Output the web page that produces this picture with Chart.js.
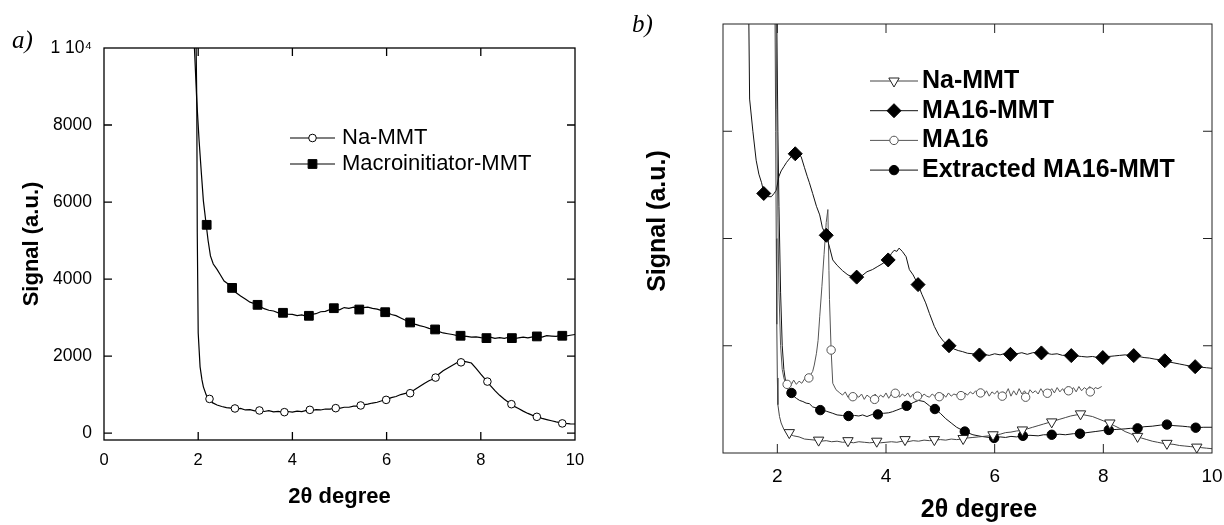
<!DOCTYPE html>
<html>
<head>
<meta charset="utf-8">
<script src="https://cdn.jsdelivr.net/npm/chart.js@4.4.1/dist/chart.umd.min.js"></script>
<style>
html, body { margin: 0; padding: 0; background: #fff; }
.panel { position: absolute; top: 0; width: 612px; height: 525px; }
#pa { left: 0; }
#pb { left: 612px; }
</style>
</head>
<body>
<div class="panel" id="pa"><canvas id="chartA"></canvas></div>
<div class="panel" id="pb"><canvas id="chartB"></canvas></div>
<script>
// ---- panel a) data ----
var aTicksX = [0, 2, 4, 6, 8, 10];
var aTicksY = [0, 2000, 4000, 6000, 8000, 10000];
var aLabels = ['Na-MMT', 'Macroinitiator-MMT'];

var aNaLine = [[1.95,10600],[1.97,8600],[1.98,5200],[2.0,2600],[2.04,1720],[2.08,1380],[2.11,1200],[2.17,990],
  [2.24,880],[2.3,790],[2.4,730],[2.5,690],[2.6,660],[2.7,650],[2.8,620],[2.9,640],[3.0,600],[3.1,610],
  [3.2,575],[3.3,595],[3.4,560],[3.5,580],[3.6,550],[3.7,565],[3.8,540],[3.9,560],[4.0,545],[4.1,570],
  [4.2,555],[4.3,590],[4.4,580],[4.5,610],[4.6,600],[4.7,625],[4.8,620],[4.9,650],[5.0,640],[5.1,670],
  [5.2,670],[5.3,700],[5.4,700],[5.5,730],[5.6,750],[5.7,780],[5.8,800],[5.9,840],[6.0,870],[6.1,920],
  [6.2,950],[6.3,1000],[6.4,1030],[6.5,1050],[6.6,1130],[6.7,1210],[6.8,1290],[6.9,1360],[7.0,1410],
  [7.1,1520],[7.2,1620],[7.3,1690],[7.4,1760],[7.5,1830],[7.6,1870],[7.7,1850],[7.8,1820],[7.9,1680],
  [8.0,1530],[8.1,1390],[8.2,1240],[8.3,1100],[8.4,980],[8.5,880],[8.6,790],[8.7,700],[8.8,640],[8.9,570],
  [9.0,510],[9.1,460],[9.2,420],[9.3,380],[9.4,350],[9.5,320],[9.6,290],[9.7,265],[9.8,250],[9.9,240],[10.0,235]];
var aNaMarks = [[2.24,887],[2.78,639],[3.30,587],[3.83,543],[4.37,603],[4.92,647],[5.45,717],[5.99,862],
  [6.50,1035],[7.04,1441],[7.58,1837],[8.14,1337],[8.65,750],[9.19,422],[9.73,251]];

var aMacroLine = [[1.90,10600],[1.92,10000],[1.97,8620],[2.02,7580],[2.07,6700],[2.11,6030],[2.17,5410],
  [2.21,5000],[2.26,4600],[2.32,4390],[2.4,4250],[2.46,4130],[2.55,3950],[2.63,3880],[2.72,3770],[2.8,3650],
  [2.9,3560],[3.0,3480],[3.1,3400],[3.2,3360],[3.3,3300],[3.4,3230],[3.5,3190],[3.6,3170],[3.7,3120],
  [3.8,3130],[3.9,3090],[4.0,3080],[4.1,3050],[4.2,3070],[4.3,3030],[4.4,3080],[4.5,3100],[4.6,3150],
  [4.7,3160],[4.8,3210],[4.9,3230],[5.0,3200],[5.1,3260],[5.2,3240],[5.3,3270],[5.4,3220],[5.5,3260],
  [5.6,3270],[5.7,3240],[5.8,3220],[5.9,3180],[6.0,3140],[6.1,3080],[6.2,3050],[6.3,2990],[6.4,2930],
  [6.5,2880],[6.6,2830],[6.7,2790],[6.8,2760],[6.9,2720],[7.0,2690],[7.1,2640],[7.2,2600],[7.3,2580],
  [7.4,2560],[7.5,2530],[7.6,2520],[7.7,2510],[7.8,2490],[7.9,2500],[8.0,2480],[8.1,2470],[8.2,2490],
  [8.3,2460],[8.4,2480],[8.5,2460],[8.6,2490],[8.7,2450],[8.8,2470],[8.9,2490],[9.0,2470],[9.1,2500],
  [9.2,2510],[9.3,2490],[9.4,2530],[9.5,2520],[9.6,2510],[9.7,2540],[9.8,2520],[9.9,2540],[10.0,2560]];
var aMacroMarks = [[2.18,5408],[2.72,3770],[3.26,3330],[3.80,3123],[4.35,3045],[4.88,3243],[5.42,3208],
  [5.97,3139],[6.50,2872],[7.03,2691],[7.57,2527],[8.12,2466],[8.66,2466],[9.19,2510],[9.73,2527]];

// ---- panel b) data ----
var bTicksX = [2, 4, 6, 8, 10];
var bTicksY = [1, 2, 3];
var bLabels = ['Na-MMT', 'MA16-MMT', 'MA16', 'Extracted MA16-MMT'];

var bNaLine = [[1.955,4.3],[1.97,3.0],[1.98,2.0],[1.99,1.2],[2.0,0.7],[2.01,0.45],[2.04,0.34],[2.07,0.28],
  [2.12,0.22],[2.21,0.18],[2.3,0.16],[2.4,0.15],[2.5,0.13],[2.6,0.125],[2.7,0.12],[2.8,0.11],[2.9,0.115],
  [3.0,0.105],[3.1,0.11],[3.2,0.10],[3.3,0.105],[3.4,0.095],[3.5,0.105],[3.6,0.10],[3.7,0.095],[3.8,0.10],
  [3.9,0.095],[4.0,0.10],[4.1,0.105],[4.2,0.10],[4.3,0.11],[4.4,0.105],[4.5,0.115],[4.6,0.11],[4.7,0.12],
  [4.8,0.115],[4.9,0.12],[5.0,0.125],[5.1,0.12],[5.2,0.13],[5.3,0.125],[5.4,0.13],[5.5,0.14],[5.6,0.145],
  [5.7,0.15],[5.8,0.155],[5.9,0.16],[6.0,0.17],[6.1,0.175],[6.2,0.19],[6.3,0.195],[6.4,0.205],[6.5,0.21],
  [6.6,0.225],[6.7,0.24],[6.8,0.255],[6.9,0.27],[7.0,0.285],[7.1,0.30],[7.2,0.315],[7.3,0.33],[7.4,0.345],
  [7.5,0.355],[7.6,0.36],[7.7,0.35],[7.8,0.34],[7.9,0.32],[8.0,0.30],[8.1,0.28],[8.2,0.255],[8.3,0.23],
  [8.4,0.20],[8.5,0.18],[8.6,0.155],[8.7,0.14],[8.8,0.125],[8.9,0.11],[9.0,0.10],[9.1,0.09],[9.2,0.085],
  [9.3,0.08],[9.4,0.07],[9.5,0.065],[9.6,0.06],[9.7,0.055],[9.8,0.05],[9.9,0.045],[10.0,0.04]];
var bNaMarks = [[2.22,0.19],[2.76,0.12],[3.30,0.115],[3.83,0.11],[4.35,0.125],[4.89,0.125],[5.42,0.135],
  [5.97,0.17],[6.51,0.215],[7.05,0.29],[7.58,0.365],[8.12,0.28],[8.63,0.155],[9.17,0.09],[9.72,0.055]];

var bMmtLine = [[1.47,4.3],[1.49,3.3],[1.55,3.0],[1.61,2.73],[1.66,2.6],[1.71,2.52],[1.75,2.43],[1.82,2.39],
  [1.89,2.39],[1.94,2.42],[1.98,2.45],[2.03,2.58],[2.07,2.63],[2.12,2.67],[2.17,2.71],[2.25,2.76],[2.33,2.80],
  [2.39,2.79],[2.44,2.76],[2.5,2.66],[2.55,2.58],[2.59,2.52],[2.65,2.42],[2.72,2.30],[2.78,2.22],[2.83,2.10],
  [2.9,2.03],[2.96,1.92],[3.02,1.80],[3.1,1.75],[3.2,1.70],[3.3,1.66],[3.4,1.64],[3.46,1.64],[3.55,1.65],
  [3.65,1.69],[3.75,1.71],[3.85,1.74],[3.95,1.77],[4.04,1.81],[4.1,1.86],[4.15,1.89],[4.2,1.88],[4.24,1.91],
  [4.3,1.88],[4.37,1.83],[4.43,1.71],[4.5,1.66],[4.59,1.57],[4.66,1.48],[4.73,1.40],[4.8,1.30],[4.89,1.18],
  [4.97,1.10],[5.06,1.04],[5.16,1.00],[5.25,0.97],[5.33,0.955],[5.41,0.945],[5.5,0.93],[5.6,0.925],
  [5.72,0.914],[5.8,0.92],[5.9,0.91],[6.0,0.925],[6.1,0.915],[6.2,0.93],[6.29,0.92],[6.4,0.925],[6.5,0.935],
  [6.6,0.92],[6.7,0.935],[6.8,0.94],[6.86,0.933],[6.95,0.93],[7.05,0.92],[7.15,0.925],[7.25,0.91],
  [7.35,0.915],[7.41,0.908],[7.5,0.905],[7.6,0.90],[7.7,0.895],[7.8,0.90],[7.9,0.89],[7.99,0.89],[8.1,0.90],
  [8.2,0.905],[8.3,0.91],[8.4,0.915],[8.5,0.91],[8.56,0.908],[8.65,0.90],[8.75,0.89],[8.85,0.885],
  [8.95,0.875],[9.05,0.87],[9.13,0.86],[9.2,0.85],[9.3,0.84],[9.4,0.83],[9.5,0.82],[9.6,0.81],[9.69,0.805],
  [9.8,0.80],[9.9,0.795],[10.0,0.79]];
var bMmtMarks = [[1.75,2.42],[2.33,2.79],[2.90,2.03],[3.46,1.64],[4.04,1.80],[4.59,1.57],[5.16,1.00],
  [5.72,0.914],[6.29,0.92],[6.86,0.933],[7.41,0.908],[7.99,0.89],[8.56,0.908],[9.13,0.86],[9.69,0.805]];

var bMa16Line = [[1.975,4.3],[1.99,3.2],[2.01,2.2],[2.03,1.5],[2.06,1.0],[2.09,0.78],[2.12,0.70],[2.15,0.65],
  [2.2,0.66],[2.25,0.63],[2.3,0.68],[2.35,0.64],[2.4,0.67],[2.45,0.65],[2.5,0.69],[2.55,0.68],[2.6,0.72],
  [2.65,0.76],[2.68,0.82],[2.72,0.93],[2.75,1.05],[2.78,1.27],[2.82,1.55],[2.86,1.85],[2.9,2.15],[2.93,2.27],
  [2.95,1.70],[2.96,1.43],[2.99,0.96],[3.02,0.65],[3.08,0.59],[3.15,0.56],[3.2,0.54],[3.25,0.57],[3.3,0.52],
  [3.35,0.55],[3.4,0.51],[3.45,0.54],[3.5,0.52],[3.55,0.55],[3.6,0.50],[3.65,0.54],[3.7,0.52],[3.75,0.50],
  [3.8,0.55],[3.85,0.51],[3.9,0.54],[3.95,0.52],[4.0,0.56],[4.05,0.51],[4.1,0.55],[4.15,0.53],[4.2,0.57],
  [4.25,0.52],[4.3,0.55],[4.35,0.53],[4.4,0.56],[4.45,0.52],[4.5,0.55],[4.55,0.53],[4.6,0.56],[4.65,0.52],
  [4.7,0.55],[4.75,0.53],[4.8,0.52],[4.85,0.55],[4.9,0.53],[4.95,0.56],[5.0,0.54],[5.05,0.55],[5.1,0.52],
  [5.15,0.56],[5.2,0.53],[5.25,0.55],[5.3,0.54],[5.35,0.57],[5.4,0.53],[5.45,0.56],[5.5,0.54],[5.55,0.57],
  [5.6,0.55],[5.65,0.58],[5.7,0.55],[5.75,0.57],[5.8,0.54],[5.85,0.58],[5.9,0.53],[5.95,0.57],[6.0,0.55],
  [6.05,0.58],[6.1,0.52],[6.15,0.57],[6.2,0.55],[6.25,0.60],[6.3,0.53],[6.35,0.58],[6.4,0.54],[6.45,0.60],
  [6.5,0.55],[6.55,0.58],[6.6,0.53],[6.65,0.59],[6.7,0.56],[6.75,0.58],[6.8,0.55],[6.85,0.60],[6.9,0.56],
  [6.95,0.58],[7.0,0.57],[7.05,0.60],[7.1,0.56],[7.15,0.61],[7.2,0.57],[7.25,0.60],[7.3,0.56],[7.35,0.62],
  [7.4,0.58],[7.45,0.61],[7.5,0.57],[7.55,0.62],[7.6,0.58],[7.65,0.61],[7.7,0.59],[7.75,0.62],[7.8,0.58],
  [7.85,0.61],[7.9,0.60],[7.97,0.62]];
var bMa16Marks = [[2.18,0.64],[2.58,0.70],[2.99,0.96],[3.39,0.525],[3.79,0.50],[4.17,0.557],[4.58,0.53],
  [4.98,0.525],[5.38,0.535],[5.74,0.56],[6.14,0.53],[6.57,0.52],[6.97,0.557],[7.36,0.58],[7.76,0.57]];

var bExtLine = [[1.985,4.3],[2.01,3.0],[2.03,2.3],[2.06,1.5],[2.09,1.0],[2.12,0.78],[2.16,0.64],[2.2,0.59],
  [2.24,0.56],[2.3,0.53],[2.35,0.51],[2.41,0.49],[2.47,0.48],[2.53,0.465],[2.59,0.46],[2.65,0.43],[2.72,0.42],
  [2.81,0.40],[2.9,0.39],[3.02,0.37],[3.1,0.355],[3.2,0.35],[3.33,0.34],[3.42,0.35],[3.5,0.345],[3.57,0.355],
  [3.65,0.34],[3.75,0.36],[3.86,0.355],[3.95,0.37],[4.05,0.375],[4.12,0.385],[4.2,0.40],[4.3,0.42],[4.4,0.44],
  [4.5,0.47],[4.6,0.49],[4.7,0.48],[4.8,0.44],[4.9,0.41],[5.0,0.37],[5.1,0.32],[5.2,0.28],[5.3,0.24],
  [5.45,0.20],[5.6,0.17],[5.75,0.155],[5.9,0.145],[5.99,0.14],[6.1,0.15],[6.2,0.145],[6.3,0.155],[6.4,0.15],
  [6.52,0.16],[6.65,0.165],[6.8,0.16],[6.9,0.17],[7.05,0.17],[7.2,0.175],[7.3,0.17],[7.45,0.18],[7.57,0.18],
  [7.7,0.19],[7.85,0.20],[8.0,0.21],[8.1,0.215],[8.25,0.22],[8.4,0.225],[8.5,0.23],[8.63,0.23],[8.75,0.245],
  [8.9,0.25],[9.05,0.26],[9.17,0.265],[9.3,0.255],[9.45,0.25],[9.55,0.245],[9.7,0.236],[9.85,0.24],[10.0,0.24]];
var bExtMarks = [[2.26,0.56],[2.79,0.40],[3.31,0.345],[3.85,0.36],[4.38,0.44],[4.90,0.41],[5.45,0.20],
  [5.99,0.14],[6.52,0.16],[7.05,0.17],[7.57,0.18],[8.10,0.215],[8.63,0.23],[9.17,0.265],[9.70,0.236]];

var SANS = "'Liberation Sans', Arial, sans-serif";
var SERIF = "'Liberation Serif', 'Times New Roman', serif";

Chart.defaults.font.family = SANS;
Chart.defaults.font.size = 17;
Chart.defaults.color = '#000';

function pts(arr) {
  return arr.map(function (p) { return {x: p[0], y: p[1]}; });
}

function lineSet(arr, color, width) {
  return {data: pts(arr), showLine: true, borderColor: color, borderWidth: width,
    pointRadius: 0, pointHoverRadius: 0, clip: 0, order: 1, tension: 0};
}

function markSet(arr, style, radius, fill, stroke, rot) {
  return {data: pts(arr), showLine: false, pointStyle: style, pointRadius: radius, pointHoverRadius: radius,
    rotation: rot || 0, backgroundColor: fill, borderColor: stroke, borderWidth: 1, order: 0};
}

function fixTicks(list) {
  return function (scale) {
    scale.ticks = list.map(function (v) { return {value: v}; });
  };
}

// keep the plot box where it is: labels may run past it
function fitX(h) {
  return function (s) { s.height = h; s.paddingLeft = 0; s.paddingRight = 0; };
}
function fitY(w) {
  return function (s) { s.width = w; s.paddingTop = 0; s.paddingBottom = 0; };
}

// frame, inward ticks, legend and loose text
var framePlugin = {
  id: 'frame',
  afterDraw: function (chart, args, o) {
    var ctx = chart.ctx, a = chart.chartArea, sx = chart.scales.x, sy = chart.scales.y;
    ctx.save();
    ctx.strokeStyle = o.color;
    ctx.lineWidth = o.width;
    ctx.strokeRect(a.left, a.top, a.right - a.left, a.bottom - a.top);
    ctx.beginPath();
    o.xMarks.forEach(function (v) {
      var p = sx.getPixelForValue(v);
      ctx.moveTo(p, a.bottom); ctx.lineTo(p, a.bottom - o.len);
      ctx.moveTo(p, a.top); ctx.lineTo(p, a.top + o.len);
    });
    o.yMarks.forEach(function (v) {
      var p = sy.getPixelForValue(v);
      ctx.moveTo(a.left, p); ctx.lineTo(a.left + o.len, p);
      ctx.moveTo(a.right, p); ctx.lineTo(a.right - o.len, p);
    });
    ctx.stroke();

    var L = o.legend;
    ctx.font = L.font;
    ctx.textAlign = 'left';
    ctx.textBaseline = 'middle';
    L.items.forEach(function (it, i) {
      var y = L.y + i * L.gap;
      var ln = chart.data.datasets[it.line], mk = chart.data.datasets[it.mark];
      ctx.strokeStyle = ln.borderColor;
      ctx.lineWidth = ln.borderWidth;
      ctx.beginPath(); ctx.moveTo(L.x, y); ctx.lineTo(L.x + L.len, y); ctx.stroke();
      ctx.fillStyle = mk.backgroundColor;
      ctx.strokeStyle = mk.borderColor;
      ctx.lineWidth = mk.borderWidth;
      Chart.helpers.drawPoint(ctx, {pointStyle: mk.pointStyle, radius: mk.pointRadius,
        rotation: mk.rotation, borderWidth: mk.borderWidth}, L.x + L.len / 2, y);
      ctx.fillStyle = '#000';
      ctx.fillText(it.text, L.x + L.len + L.pad, y);
    });

    o.texts.forEach(function (t) {
      ctx.save();
      ctx.font = t.font;
      ctx.fillStyle = '#000';
      ctx.textAlign = t.align || 'center';
      ctx.textBaseline = t.base || 'middle';
      ctx.translate(t.x, t.y);
      if (t.rot) ctx.rotate(t.rot * Math.PI / 180);
      ctx.fillText(t.text, 0, 0);
      ctx.restore();
    });
    ctx.restore();
  }
};

new Chart(document.getElementById('chartA'), {
  type: 'scatter',
  data: {
    datasets: [
      lineSet(aNaLine, '#000', 1.2),
      markSet(aNaMarks, 'circle', 3.8, '#fff', '#000'),
      lineSet(aMacroLine, '#000', 1.2),
      markSet(aMacroMarks, 'rect', 6.2, '#000', '#000')
    ]
  },
  options: {
    responsive: true,
    maintainAspectRatio: false,
    animation: false,
    events: [],
    layout: {padding: {left: 0, top: 48, right: 37, bottom: 0}},
    plugins: {
      legend: {display: false},
      tooltip: {enabled: false},
      frame: {
        color: '#000', width: 1.3, len: 8,
        xMarks: [2, 4, 6, 8], yMarks: [0, 2000, 4000, 6000, 8000],
        legend: {x: 290, y: 138, gap: 26, len: 45, pad: 7, font: '22px ' + SANS,
          items: [{text: aLabels[0], line: 0, mark: 1}, {text: aLabels[1], line: 2, mark: 3}]},
        texts: [{text: 'a)', x: 12, y: 48, font: 'italic 25px ' + SERIF, align: 'left', base: 'alphabetic'}]
      }
    },
    scales: {
      x: {
        type: 'linear', min: 0, max: 10,
        afterBuildTicks: fixTicks(aTicksX),
        afterFit: fitX(85),
        grid: {display: false, drawTicks: false},
        border: {display: false},
        ticks: {color: '#000', padding: 11, maxRotation: 0, autoSkip: false, font: {family: SANS, size: 16.5}},
        title: {display: true, text: '2θ degree', color: '#000',
          font: {family: SANS, size: 22, weight: 'bold'}, padding: {top: 0, bottom: 15}}
      },
      y: {
        type: 'linear', min: -180, max: 10000,
        afterBuildTicks: fixTicks(aTicksY),
        afterFit: fitY(104),
        grid: {display: false, drawTicks: false},
        border: {display: false},
        ticks: {color: '#000', padding: 12, autoSkip: false, font: {family: SANS, size: 17.5},
          callback: function (v) { return v === 10000 ? '1 10\u2074' : String(v); }},
        title: {display: true, text: 'Signal (a.u.)', color: '#000',
          font: {family: SANS, size: 22, weight: 'bold'}, padding: {top: 19, bottom: 0}}
      }
    }
  },
  plugins: [framePlugin]
});

new Chart(document.getElementById('chartB'), {
  type: 'scatter',
  data: {
    datasets: [
      lineSet(bNaLine, '#444', 1),
      markSet(bNaMarks, 'triangle', 6, '#fff', '#222', 180),
      lineSet(bMmtLine, '#111', 1),
      markSet(bMmtMarks, 'rectRot', 7, '#000', '#000'),
      lineSet(bMa16Line, '#555', 1),
      markSet(bMa16Marks, 'circle', 4.2, '#fff', '#555'),
      lineSet(bExtLine, '#111', 1),
      markSet(bExtMarks, 'circle', 4.7, '#000', '#000')
    ]
  },
  options: {
    responsive: true,
    maintainAspectRatio: false,
    animation: false,
    events: [],
    layout: {padding: {left: 0, top: 24, right: 12, bottom: 0}},
    plugins: {
      legend: {display: false},
      tooltip: {enabled: false},
      frame: {
        color: '#222', width: 1, len: 9,
        xMarks: [2, 4, 6, 8], yMarks: bTicksY,
        legend: {x: 258, y: 81, gap: 29.7, len: 48, pad: 4, font: 'bold 25px ' + SANS,
          items: [{text: bLabels[0], line: 0, mark: 1}, {text: bLabels[1], line: 2, mark: 3},
                  {text: bLabels[2], line: 4, mark: 5}, {text: bLabels[3], line: 6, mark: 7}]},
        texts: [
          {text: 'b)', x: 20, y: 32, font: 'italic 25px ' + SERIF, align: 'left', base: 'alphabetic'},
          {text: 'Signal (a.u.)', x: 46, y: 221, rot: -90, font: 'bold 25px ' + SANS},
          {text: '2θ degree', x: 367, y: 510, font: 'bold 25px ' + SANS}
        ]
      }
    },
    scales: {
      x: {
        type: 'linear', min: 1, max: 10,
        afterBuildTicks: fixTicks(bTicksX),
        afterFit: fitX(72),
        grid: {display: false, drawTicks: false},
        border: {display: false},
        ticks: {color: '#000', padding: 12, maxRotation: 0, autoSkip: false, font: {family: SANS, size: 19}}
      },
      y: {
        type: 'linear', min: 0, max: 4,
        afterBuildTicks: fixTicks(bTicksY),
        afterFit: fitY(111),
        grid: {display: false, drawTicks: false},
        border: {display: false},
        ticks: {display: false}
      }
    }
  },
  plugins: [framePlugin]
});
</script>
</body>
</html>
